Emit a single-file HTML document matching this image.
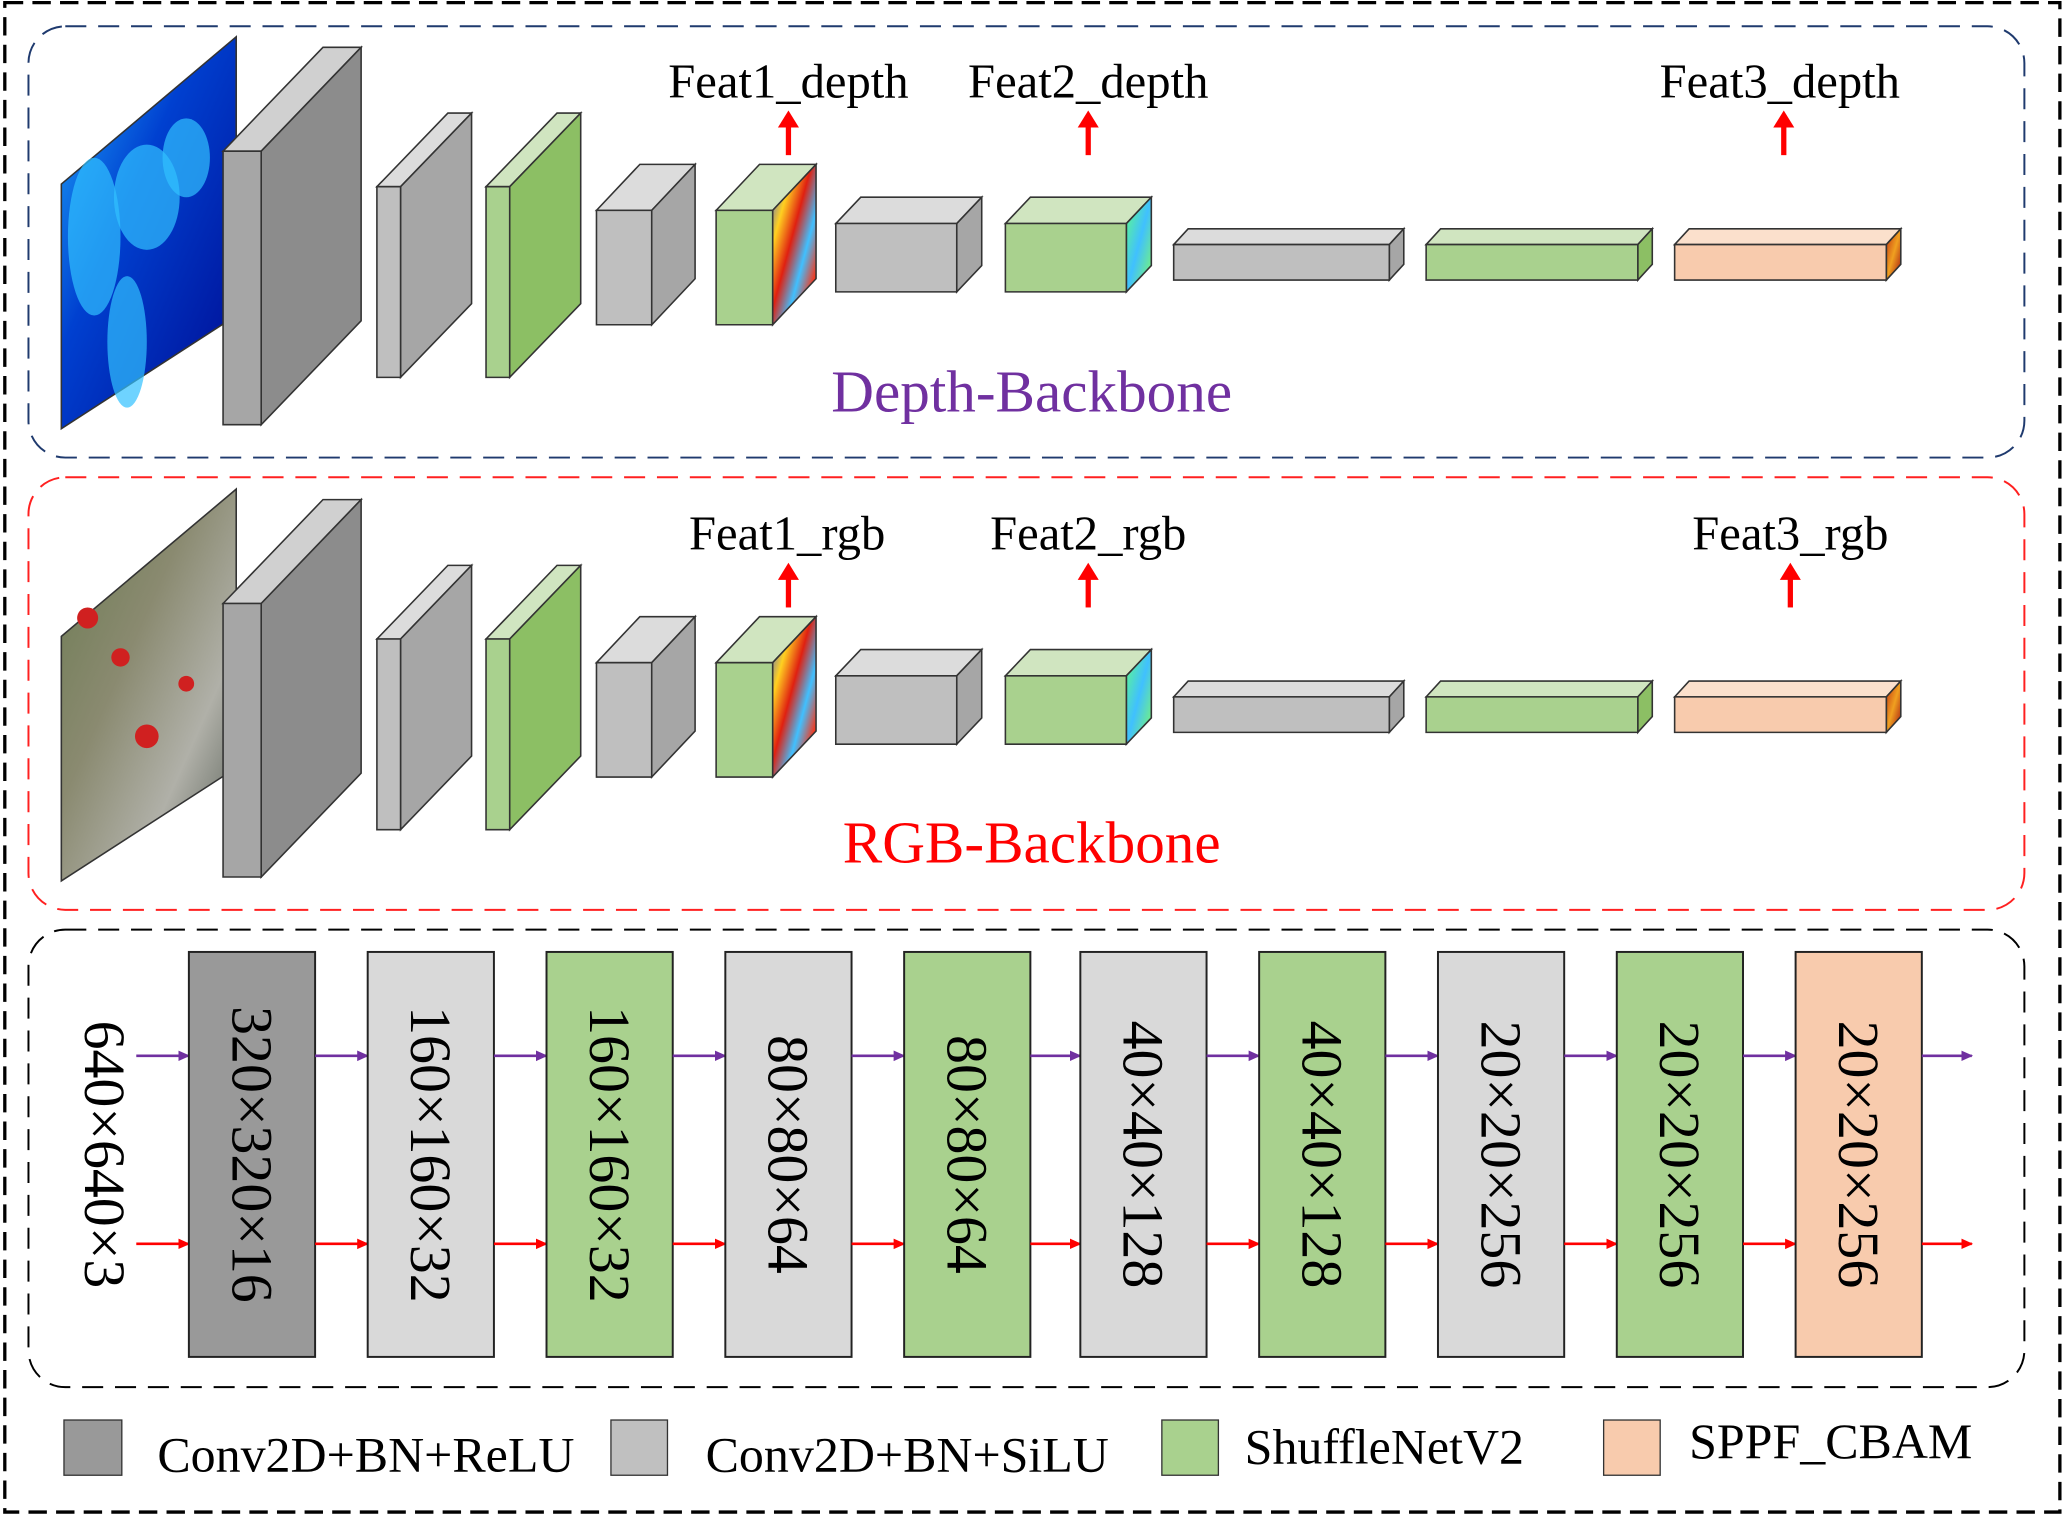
<!DOCTYPE html>
<html><head><meta charset="utf-8"><style>html,body{margin:0;padding:0;background:#fff}svg{display:block}text{font-family:"Liberation Serif",serif}</style></head>
<body>
<svg id="s" width="2066" height="1516" viewBox="0 0 1568 1153" xmlns="http://www.w3.org/2000/svg">
<defs>
<marker id="ar" markerWidth="10" markerHeight="10" refX="8" refY="5" orient="auto" markerUnits="userSpaceOnUse"><path d="M0,1 L9,5 L0,9 z" fill="#ff0000"/></marker>
<marker id="ap" markerWidth="10" markerHeight="10" refX="8" refY="5" orient="auto" markerUnits="userSpaceOnUse"><path d="M0,1 L9,5 L0,9 z" fill="#7030a0"/></marker>
<linearGradient id="heat" x1="0" y1="0" x2="1" y2="1"><stop offset="0" stop-color="#2050ff"/><stop offset="0.25" stop-color="#ffd020"/><stop offset="0.45" stop-color="#e02010"/><stop offset="0.65" stop-color="#40c0ff"/><stop offset="0.85" stop-color="#ff3010"/><stop offset="1" stop-color="#2040e0"/></linearGradient>
<linearGradient id="heat2" x1="0" y1="0" x2="1" y2="1"><stop offset="0" stop-color="#60ff80"/><stop offset="0.5" stop-color="#40c0ff"/><stop offset="1" stop-color="#80ff60"/></linearGradient>
<linearGradient id="heat3" x1="0" y1="0" x2="1" y2="1"><stop offset="0" stop-color="#c03010"/><stop offset="0.5" stop-color="#f0a020"/><stop offset="1" stop-color="#a01010"/></linearGradient>
<linearGradient id="depthimg" x1="0" y1="0" x2="1" y2="1"><stop offset="0" stop-color="#20b0ff"/><stop offset="0.4" stop-color="#0040d0"/><stop offset="1" stop-color="#000a90"/></linearGradient>
<linearGradient id="rgbimg" x1="0" y1="0" x2="1" y2="1"><stop offset="0" stop-color="#6a7a50"/><stop offset="0.4" stop-color="#8a8a70"/><stop offset="0.7" stop-color="#b0b0a8"/><stop offset="1" stop-color="#505850"/></linearGradient>
</defs>
<rect x="2" y="2" width="1563" height="1148" fill="none" stroke="#000" stroke-width="2.5" stroke-dasharray="14,7"/>
<rect x="20" y="20" width="1518" height="328" rx="28" fill="none" stroke="#1f3a6e" stroke-width="1.5" stroke-dasharray="16,9"/>
<rect x="20" y="363" width="1518" height="329" rx="28" fill="none" stroke="#ff2020" stroke-width="1.5" stroke-dasharray="16,9"/>
<rect x="20" y="707" width="1518" height="348" rx="28" fill="none" stroke="#000" stroke-width="1.5" stroke-dasharray="16,9"/>
<g id="g"></g>
<text x="598" y="74" font-size="37" text-anchor="middle">Feat1_depth</text>
<text x="826" y="74" font-size="37" text-anchor="middle">Feat2_depth</text>
<text x="1352" y="74" font-size="37" text-anchor="middle">Feat3_depth</text>
<text x="783" y="313" font-size="45" text-anchor="middle" fill="#7030a0">Depth-Backbone</text>
<text x="597" y="418" font-size="37" text-anchor="middle">Feat1_rgb</text>
<text x="826" y="418" font-size="37" text-anchor="middle">Feat2_rgb</text>
<text x="1360" y="418" font-size="37" text-anchor="middle">Feat3_rgb</text>
<text x="783" y="656" font-size="45" text-anchor="middle" fill="#ff0000">RGB-Backbone</text>
<text transform="translate(63,878) rotate(90)" font-size="44" text-anchor="middle">640×640×3</text>
<rect x="47" y="1080" width="44" height="42" fill="#999" stroke="#333"/>
<rect x="463" y="1080" width="43" height="42" fill="#c0c0c0" stroke="#333"/>
<rect x="882" y="1080" width="43" height="42" fill="#a9d18e" stroke="#333"/>
<rect x="1218" y="1080" width="43" height="42" fill="#f8cbad" stroke="#333"/>
<text x="118" y="1119" font-size="38">Conv2D+BN+ReLU</text>
<text x="535" y="1119" font-size="38">Conv2D+BN+SiLU</text>
<text x="945" y="1113" font-size="38">ShuffleNetV2</text>
<text x="1283" y="1109" font-size="38">SPPF_CBAM</text>
</svg>
<script>
var NS="http://www.w3.org/2000/svg",g=document.getElementById("g");
function el(t,a){var e=document.createElementNS(NS,t);for(var k in a)e.setAttribute(k,a[k]);g.appendChild(e);return e;}
function poly(p,f){el("polygon",{points:p.map(function(q){return q.join(",")}).join(" "),fill:f,stroke:"#333","stroke-width":1.2});}
var C={d:["#a6a6a6","#8c8c8c","#d0d0d0"],l:["#bfbfbf","#a6a6a6","#dcdcdc"],g:["#a9d18e","#8cbf64","#d0e5c0"],p:["#f8cbad","#c04020","#fbe0cc"]};
function box(x1,y1,x2,y2,dx,dy,c,side){var k=C[c];
poly([[x1,y1],[x1+dx,y1-dy],[x2+dx,y1-dy],[x2,y1]],k[2]);
poly([[x2,y1],[x2+dx,y1-dy],[x2+dx,y2-dy],[x2,y2]],side||k[1]);
poly([[x1,y1],[x2,y1],[x2,y2],[x1,y2]],k[0]);}
var B=[[168,115,197,323,76,79,"d"],[285,142,303,287,54,56,"l"],[368,142,386,287,54,56,"g"],[452,160,494,247,33,35,"l"],[543,160,586,247,33,35,"g","url(#heat)"],[634,170,726,222,19,20,"l"],[763,170,855,222,19,20,"g","url(#heat2)"],[891,186,1055,213,11,12,"l"],[1083,186,1244,213,11,12,"g"],[1272,186,1433,213,11,12,"p","url(#heat3)"]];
[0,344].forEach(function(o,i){
poly([[45,140+o],[178,28+o],[178,240+o],[45,326+o]],i==0?"url(#depthimg)":"url(#rgbimg)");
if(i==0){[[70,180,20,60],[110,150,25,40],[95,260,15,50],[140,120,18,30]].forEach(function(b){el("ellipse",{cx:b[0],cy:b[1]+o,rx:b[2],ry:b[3],fill:"#30c0ff",opacity:0.7});});}
else{[[65,470,8],[90,500,7],[110,560,9],[140,520,6]].forEach(function(b){el("circle",{cx:b[0],cy:b[1],r:b[2],fill:"#d02020"});});}
B.forEach(function(b){box(b[0],b[1]+o,b[2],b[3]+o,b[4],b[5],b[6],b[7]);});
var ax=i==0?[598,826,1355]:[598,826,1360];
ax.forEach(function(x){el("line",{x1:x,y1:118+o,x2:x,y2:92+o,stroke:"#ff0000","stroke-width":4});el("polygon",{points:(x-8)+","+(97+o)+" "+x+","+(84+o)+" "+(x+8)+","+(97+o),fill:"#ff0000"});});
});
var L=[[142,"#999999","320×320×16"],[278,"#d9d9d9","160×160×32"],[414,"#a9d18e","160×160×32"],[550,"#d9d9d9","80×80×64"],[686,"#a9d18e","80×80×64"],[820,"#d9d9d9","40×40×128"],[956,"#a9d18e","40×40×128"],[1092,"#d9d9d9","20×20×256"],[1228,"#a9d18e","20×20×256"],[1364,"#f8cbad","20×20×256"]];
var prev=102;
L.forEach(function(b){
el("line",{x1:prev,y1:803,x2:b[0],y2:803,stroke:"#7030a0","stroke-width":2,"marker-end":"url(#ap)"});
el("line",{x1:prev,y1:946,x2:b[0],y2:946,stroke:"#ff0000","stroke-width":2,"marker-end":"url(#ar)"});
el("rect",{x:b[0],y:724,width:96,height:308,fill:b[1],stroke:"#222","stroke-width":1.5});
var t=el("text",{transform:"translate("+(b[0]+33)+",878) rotate(90)","font-size":44,"text-anchor":"middle"});t.textContent=b[2];
prev=b[0]+96;});
el("line",{x1:1460,y1:803,x2:1498,y2:803,stroke:"#7030a0","stroke-width":2,"marker-end":"url(#ap)"});
el("line",{x1:1460,y1:946,x2:1498,y2:946,stroke:"#ff0000","stroke-width":2,"marker-end":"url(#ar)"});
</script>
</body></html>
